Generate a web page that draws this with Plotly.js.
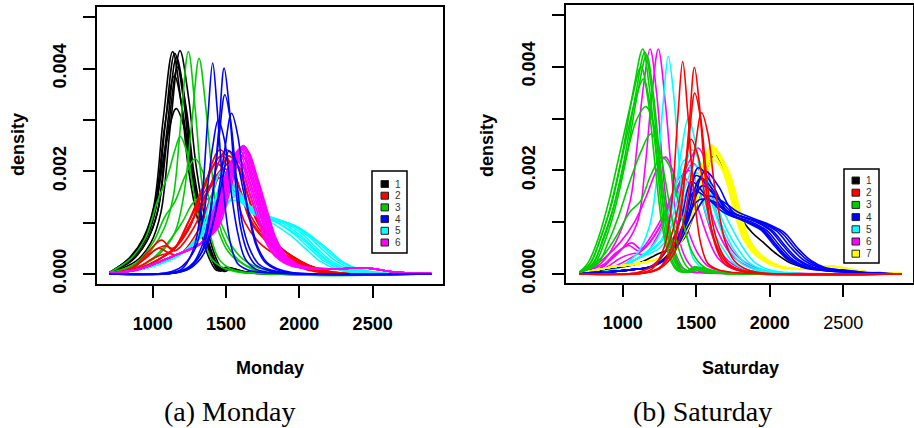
<!DOCTYPE html>
<html><head><meta charset="utf-8">
<script src="https://cdn.plot.ly/plotly-3.0.1.min.js"></script>
<style>html,body{margin:0;padding:0;background:#fff}#chart{width:914px;height:428px}</style>
</head><body><div id="chart"></div>
<script>
// ===== Monday (panel a) : curve knots =====
const monBlackX = [
 [705,836,936,1006,1071,1136,1196,1246,1316,1386,1436,1486,1586,1736,2900],
 [705,850,950,1020,1085,1150,1210,1260,1330,1400,1450,1500,1600,1750,2900],
 [705,862,962,1032,1097,1162,1222,1272,1342,1412,1462,1512,1612,1762,2900],
 [705,886,986,1056,1121,1186,1246,1296,1366,1436,1486,1536,1636,1786,2900],
 [705,870,970,1040,1105,1170,1230,1280,1350,1420,1470,1520,1620,1770,2900],
 [705,848,948,1018,1083,1148,1208,1258,1328,1398,1448,1498,1598,1748,2900],
 [705,860,960,1030,1095,1160,1220,1270,1340,1410,1460,1510,1610,1760,2900]];
const monBlackY = [
 [0.00002,0.0003,0.0007,0.0013,0.003,0.00433,0.0033,0.002,0.00095,0.0003,0.00007,0.00012,0.00005,0.00001,0],
 [0.00002,0.00028,0.00066,0.00125,0.0029,0.0043,0.0034,0.0021,0.001,0.00032,0.00006,0.00011,0.00004,0.00001,0],
 [0.00002,0.00027,0.00065,0.0012,0.0028,0.00422,0.0033,0.002,0.00098,0.0003,0.00006,0.0001,0.00004,0.00001,0],
 [0.00002,0.00025,0.0006,0.0012,0.0029,0.00435,0.0034,0.0021,0.00095,0.00028,0.00005,0.0001,0.00004,0.00001,0],
 [0.00002,0.0003,0.0007,0.0013,0.0028,0.00403,0.0032,0.002,0.00095,0.0003,0.00007,0.00012,0.00005,0.00001,0],
 [0.00003,0.00032,0.00075,0.0014,0.0029,0.00386,0.0031,0.002,0.001,0.00033,0.00008,0.00013,0.00005,0.00001,0],
 [0.00003,0.00035,0.0008,0.0015,0.0026,0.00322,0.0028,0.0019,0.001,0.00035,0.0001,0.00013,0.00005,0.00001,0]];
const monGreenX = [
 [705,900,1000,1080,1140,1190,1243,1290,1330,1390,1450,1520,1600,1750,2900],
 [705,950,1050,1150,1210,1265,1316,1360,1400,1450,1500,1560,1640,1750,2900],
 [705,850,950,1030,1100,1150,1188,1230,1280,1340,1400,1480,1560,1700,2900],
 [705,880,1000,1080,1150,1220,1288,1340,1390,1440,1500,1560,1650,1760,2900],
 [705,950,1100,1200,1280,1350,1420,1480,1550,1620,1720,1850,2900]];
const monGreenY = [
 [0.00002,0.0002,0.0005,0.0009,0.0015,0.0029,0.00433,0.0032,0.0019,0.0008,0.0003,0.00012,0.00005,0.00001,0],
 [0.00001,0.0002,0.0004,0.0008,0.0015,0.0029,0.0042,0.0033,0.0021,0.001,0.0006,0.00035,0.00015,0.00003,0],
 [0.00003,0.0003,0.0007,0.0014,0.0019,0.0024,0.00268,0.0024,0.0016,0.0008,0.0003,0.00012,0.00005,0.00001,0],
 [0.00002,0.0002,0.0006,0.0011,0.0014,0.0019,0.00225,0.002,0.0014,0.0009,0.0005,0.0003,0.00015,0.00003,0],
 [0.00001,0.0002,0.0006,0.001,0.0014,0.0015,0.0013,0.0009,0.0005,0.00028,0.00012,0.00003,0]];
const monRedX = [
 [705,850,960,1060,1130,1250,1350,1459,1540,1600,1660,1760,1880,2010,2150,2900],
 [705,860,980,1085,1150,1280,1390,1504,1580,1640,1700,1800,1920,2050,2200,2900],
 [705,900,1050,1150,1250,1340,1436,1510,1570,1630,1730,1850,1980,2120,2900],
 [705,880,1000,1100,1180,1300,1410,1520,1595,1655,1715,1815,1935,2065,2210,2900],
 [705,900,1050,1150,1260,1370,1480,1555,1615,1675,1775,1895,2025,2170,2900],
 [705,840,950,1040,1120,1240,1360,1470,1550,1610,1670,1770,1890,2020,2160,2900],
 [705,900,1050,1150,1260,1380,1500,1580,1680,1780,1880,2000,2150,2900],
 [705,900,1050,1180,1300,1420,1540,1610,1670,1730,1830,1950,2080,2220,2900]];
const monRedY = [
 [0.00001,0.0001,0.0004,0.00066,0.0005,0.0009,0.0017,0.00242,0.0021,0.0016,0.0011,0.0007,0.0004,0.00018,0.00005,0],
 [0.00001,0.0001,0.0004,0.00055,0.00045,0.0009,0.0017,0.00242,0.0021,0.0016,0.0011,0.0007,0.0004,0.00018,0.00005,0],
 [0.00001,0.0001,0.0003,0.0005,0.0009,0.0016,0.00216,0.0019,0.0015,0.001,0.0006,0.00035,0.00015,0.00004,0],
 [0.00001,0.0001,0.0003,0.0004,0.00038,0.0008,0.0016,0.0023,0.002,0.0015,0.001,0.00065,0.00038,0.00017,0.00005,0],
 [0.00001,0.0001,0.0003,0.0005,0.001,0.0016,0.00205,0.0019,0.0015,0.0011,0.0007,0.0004,0.00018,0.00005,0],
 [0.00001,0.0001,0.0003,0.0005,0.00042,0.001,0.0018,0.0023,0.002,0.0015,0.001,0.00065,0.00035,0.00015,0.00004,0],
 [0.00001,0.0001,0.0003,0.0005,0.0011,0.0017,0.0019,0.0016,0.0012,0.0008,0.0005,0.00022,0.00006,0],
 [0.00001,0.0001,0.0003,0.0006,0.0012,0.0018,0.0022,0.002,0.0015,0.001,0.0006,0.00035,0.00015,0.00004,0]];
const monBlueX = [
 [705,1100,1200,1280,1330,1375,1409,1440,1480,1530,1580,1650,1750,1900,2900],
 [705,1150,1250,1330,1390,1450,1487,1520,1560,1600,1650,1700,1800,1950,2900],
 [705,1150,1250,1330,1390,1450,1492,1530,1570,1610,1660,1720,1800,1950,2900],
 [705,1150,1250,1350,1420,1490,1538,1580,1620,1660,1700,1760,1850,1950,2900],
 [705,1100,1200,1290,1350,1410,1447,1490,1530,1580,1630,1700,1800,1950,2900],
 [705,1150,1250,1350,1420,1480,1520,1570,1620,1670,1720,1780,1850,1950,2900]];
const monBlueY = [
 [0,0.00002,0.0001,0.0005,0.0013,0.003,0.00411,0.0032,0.0017,0.0006,0.0002,0.00008,0.00003,0.00001,0],
 [0,0.00002,0.00012,0.0004,0.0011,0.0028,0.00401,0.0033,0.0019,0.0009,0.0004,0.00018,0.00006,0.00001,0],
 [0,0.00002,0.00012,0.0005,0.0012,0.0026,0.00349,0.003,0.0019,0.001,0.0005,0.0002,0.00008,0.00001,0],
 [0,0.00002,0.0001,0.0004,0.0011,0.0024,0.00313,0.0027,0.0018,0.0011,0.0006,0.00025,0.00008,0.00002,0],
 [0,0.00003,0.00015,0.0005,0.0012,0.0025,0.003,0.0026,0.0017,0.0008,0.0003,0.0001,0.00003,0.00001,0],
 [0,0.00003,0.00015,0.0005,0.0011,0.0019,0.0024,0.0022,0.0016,0.001,0.0005,0.00022,0.0001,0.00003,0]];
const monCyanX = [
 [705,900,1050,1200,1320,1400,1470,1570,1670,1820,1940,2040,2140,2270,2420,2900],
 [705,900,1050,1200,1330,1420,1490,1590,1690,1850,1970,2070,2170,2300,2450,2900],
 [705,900,1050,1200,1340,1435,1505,1605,1705,1880,2000,2100,2200,2330,2480,2900],
 [705,900,1050,1200,1350,1460,1530,1630,1730,1900,2020,2120,2220,2350,2500,2900],
 [705,900,1050,1200,1360,1480,1550,1650,1750,1930,2050,2150,2250,2380,2530,2900],
 [705,900,1050,1200,1350,1450,1520,1620,1720,1960,2080,2180,2280,2410,2560,2900],
 [705,900,1050,1200,1320,1410,1480,1580,1680,1870,1990,2090,2190,2320,2470,2900],
 [705,900,1050,1200,1340,1430,1500,1600,1700,1980,2100,2200,2300,2430,2580,2900]];
const monCyanY = [
 [0.00001,0.00008,0.0002,0.0004,0.0008,0.0015,0.002,0.0016,0.0012,0.00098,0.00075,0.0005,0.00025,0.00008,0.00002,0],
 [0.00001,0.00008,0.0002,0.0004,0.0008,0.0014,0.0019,0.0016,0.0012,0.001,0.00076,0.0005,0.00025,0.00008,0.00002,0],
 [0.00001,0.00008,0.0002,0.0004,0.0008,0.0013,0.00175,0.0015,0.0012,0.001,0.00077,0.0005,0.00025,0.00008,0.00002,0],
 [0.00001,0.00008,0.0002,0.0004,0.0008,0.0012,0.0016,0.0014,0.0012,0.001,0.00078,0.0005,0.00025,0.00008,0.00002,0],
 [0.00001,0.00008,0.0002,0.0004,0.0008,0.0012,0.0015,0.0013,0.0011,0.00098,0.00076,0.0005,0.00025,0.00008,0.00002,0],
 [0.00001,0.00008,0.0002,0.0004,0.0008,0.0012,0.00142,0.0014,0.0012,0.00095,0.00072,0.00048,0.00024,0.00008,0.00002,0],
 [0.00001,0.00008,0.0002,0.0004,0.0008,0.0013,0.0018,0.0015,0.0012,0.00097,0.00075,0.0005,0.00025,0.00008,0.00002,0],
 [0.00001,0.00008,0.0002,0.0004,0.0008,0.0012,0.00165,0.0014,0.0012,0.00093,0.0007,0.00047,0.00023,0.00008,0.00002,0]];
const monMagentaX = [
 [705,900,1140,1330,1370,1460,1520,1570,1640,1710,1770,1840,1950,2250,2450,2650,2900],
 [705,900,1140,1330,1380,1470,1530,1580,1650,1720,1780,1850,1960,2250,2450,2650,2900],
 [705,900,1140,1330,1390,1480,1540,1590,1660,1730,1790,1860,1970,2250,2450,2650,2900],
 [705,900,1140,1330,1398,1488,1548,1598,1668,1738,1798,1868,1978,2250,2450,2650,2900],
 [705,900,1140,1330,1405,1495,1555,1605,1675,1745,1805,1875,1985,2250,2450,2650,2900],
 [705,900,1140,1330,1412,1502,1562,1612,1682,1752,1812,1882,1992,2250,2450,2650,2900],
 [705,900,1140,1330,1420,1510,1570,1620,1690,1760,1820,1890,2000,2250,2450,2650,2900],
 [705,900,1140,1330,1428,1518,1578,1628,1698,1768,1828,1898,2008,2250,2450,2650,2900],
 [705,900,1140,1330,1435,1525,1585,1635,1705,1775,1835,1905,2015,2250,2450,2650,2900],
 [705,900,1140,1330,1445,1535,1595,1645,1715,1785,1845,1915,2025,2250,2450,2650,2900],
 [705,900,1140,1330,1400,1490,1550,1600,1670,1740,1800,1870,1980,2250,2450,2650,2900],
 [705,900,1140,1330,1415,1505,1565,1615,1685,1755,1815,1885,1995,2250,2450,2650,2900]];
const monMagentaY = [
 [0.00001,0.00009,0.00035,0.0006,0.0009,0.0016,0.0021,0.00225,0.00175,0.00112,0.00063,0.00033,0.00015,0.0001,0.00012,0.00004,0.00001],
 [0.00001,0.00009,0.00035,0.0006,0.0009,0.0016,0.00215,0.0023,0.0018,0.00115,0.00064,0.00033,0.00015,0.0001,0.00012,0.00004,0.00001],
 [0.00001,0.00009,0.00035,0.0006,0.0009,0.0017,0.0022,0.00235,0.00183,0.00118,0.00066,0.00034,0.00015,0.0001,0.00012,0.00004,0.00001],
 [0.00001,0.00009,0.00035,0.0006,0.0009,0.0017,0.00225,0.0024,0.00187,0.0012,0.00067,0.00034,0.00015,0.0001,0.00012,0.00004,0.00001],
 [0.00001,0.00009,0.00035,0.0006,0.0009,0.0017,0.0023,0.00245,0.0019,0.00122,0.00069,0.00035,0.00015,0.0001,0.00012,0.00004,0.00001],
 [0.00001,0.00009,0.00035,0.0006,0.0009,0.0017,0.0023,0.00248,0.00193,0.00124,0.0007,0.00035,0.00015,0.0001,0.00012,0.00004,0.00001],
 [0.00001,0.00009,0.00035,0.0006,0.0009,0.0017,0.00232,0.0025,0.00195,0.00125,0.0007,0.00035,0.00015,0.0001,0.00012,0.00004,0.00001],
 [0.00001,0.00009,0.00035,0.0006,0.0009,0.0017,0.0023,0.00248,0.00193,0.00124,0.0007,0.00035,0.00015,0.0001,0.00012,0.00004,0.00001],
 [0.00001,0.00009,0.00035,0.0006,0.0009,0.0017,0.0023,0.00245,0.0019,0.00122,0.00069,0.00035,0.00015,0.0001,0.00012,0.00004,0.00001],
 [0.00001,0.00009,0.00035,0.0006,0.0009,0.0017,0.00225,0.0024,0.00187,0.0012,0.00067,0.00034,0.00015,0.0001,0.00012,0.00004,0.00001],
 [0.00001,0.00009,0.00035,0.0006,0.0009,0.0016,0.0021,0.0022,0.00172,0.0011,0.00062,0.00032,0.00014,0.0001,0.00012,0.00004,0.00001],
 [0.00001,0.00009,0.00035,0.0006,0.0009,0.0017,0.00218,0.0023,0.0018,0.00115,0.00065,0.00033,0.00015,0.0001,0.00012,0.00004,0.00001]];

// ===== Saturday (panel b) =====
const satBlackX = [[705,900,1100,1250,1344,1420,1500,1570,1625,1700,1780,1880,1960,2040,2150,2300,2450,2900]];
const satBlackY = [[0.00001,0.0001,0.0002,0.0004,0.0005,0.0007,0.0013,0.002,0.0023,0.0019,0.0012,0.0008,0.0006,0.0004,0.0002,0.0001,0.00008,0]];
const satRedX = [
 [705,1100,1200,1280,1330,1374,1408,1440,1480,1530,1580,1650,1750,1900,2900],
 [705,1150,1250,1330,1390,1450,1488,1520,1560,1600,1650,1700,1800,1950,2900],
 [705,1150,1250,1330,1390,1450,1490,1530,1570,1610,1660,1720,1800,1950,2900],
 [705,1150,1250,1350,1420,1490,1537,1580,1620,1660,1700,1760,1850,1950,2900],
 [705,1100,1200,1300,1370,1425,1465,1510,1560,1610,1660,1730,1820,1950,2900]];
const satRedY = [
 [0,0.00002,0.0001,0.0005,0.0013,0.003,0.0041,0.0032,0.0017,0.0006,0.0002,0.00008,0.00003,0.00001,0],
 [0,0.00002,0.00012,0.0004,0.0011,0.0028,0.00399,0.0033,0.0019,0.0009,0.0004,0.00018,0.00006,0.00001,0],
 [0,0.00002,0.00012,0.0005,0.0012,0.0026,0.00349,0.003,0.0019,0.001,0.0005,0.0002,0.00008,0.00001,0],
 [0,0.00002,0.0001,0.0004,0.0011,0.0024,0.00311,0.0027,0.0018,0.0011,0.0006,0.00025,0.00008,0.00002,0],
 [0,0.00003,0.00015,0.0005,0.0012,0.0021,0.0026,0.0023,0.0015,0.0008,0.0004,0.00015,0.00005,0.00001,0]];
const satGreenX = [
 [705,776,846,916,996,1076,1136,1181,1231,1281,1331,1381,1436,1491,1556,1696,2900],
 [705,790,860,930,1010,1090,1150,1195,1245,1295,1345,1395,1450,1505,1570,1710,2900],
 [705,802,872,942,1022,1102,1162,1207,1257,1307,1357,1407,1462,1517,1582,1722,2900],
 [705,780,850,920,1000,1080,1140,1190,1240,1290,1340,1390,1440,1495,1560,1700,2900],
 [705,798,868,938,1018,1098,1158,1210,1260,1310,1360,1410,1460,1513,1578,1718,2900],
 [705,830,900,970,1050,1130,1190,1240,1290,1340,1390,1440,1490,1545,1610,1750,2900],
 [705,850,950,1050,1120,1190,1265,1315,1360,1410,1460,1510,1560,1620,1700,1800,2900],
 [705,765,835,905,985,1065,1125,1170,1220,1270,1320,1370,1425,1480,1545,1685,2900]];
const satGreenY = [
 [0.00003,0.0002,0.00066,0.0013,0.0023,0.0036,0.00434,0.0036,0.0022,0.0009,0.0003,0.00007,0.00004,0.00014,0.00005,0.00001,0],
 [0.00003,0.00018,0.0006,0.0012,0.0022,0.0035,0.00428,0.0036,0.0022,0.0009,0.0003,0.00007,0.00004,0.00013,0.00005,0.00001,0],
 [0.00003,0.00017,0.00058,0.0012,0.0022,0.0035,0.00422,0.0035,0.0021,0.0009,0.0003,0.00007,0.00004,0.00012,0.00005,0.00001,0],
 [0.00003,0.0002,0.0007,0.0013,0.0023,0.0033,0.00376,0.0032,0.0021,0.001,0.00035,0.0001,0.00004,0.00013,0.00005,0.00001,0],
 [0.00003,0.0002,0.0007,0.0013,0.0022,0.003,0.00323,0.0029,0.0019,0.001,0.0004,0.00012,0.00005,0.00013,0.00005,0.00001,0],
 [0.00003,0.0002,0.0006,0.0011,0.0018,0.0024,0.0027,0.0025,0.0018,0.001,0.0004,0.00013,0.00005,0.00012,0.00005,0.00001,0],
 [0.00003,0.0003,0.0007,0.0012,0.0014,0.0019,0.00226,0.0021,0.0016,0.001,0.0005,0.00025,0.00012,0.00006,0.00003,0.00001,0],
 [0.00004,0.00022,0.0007,0.0014,0.0024,0.0034,0.004,0.0034,0.0021,0.0009,0.0003,0.00007,0.00004,0.00013,0.00005,0.00001,0]];
const satBlueX = [
 [705,900,1050,1200,1320,1420,1514,1614,1714,1860,1960,2050,2140,2240,2380,2600,2900],
 [705,900,1050,1200,1330,1450,1560,1650,1750,1900,2000,2090,2180,2280,2420,2600,2900],
 [705,900,1050,1200,1310,1400,1469,1570,1680,1850,1950,2040,2130,2230,2370,2600,2900],
 [705,900,1050,1200,1320,1420,1520,1620,1720,1950,2050,2140,2230,2330,2470,2600,2900],
 [705,900,1050,1200,1320,1420,1500,1600,1700,1880,1980,2070,2160,2260,2400,2600,2900],
 [705,900,1050,1200,1330,1440,1540,1640,1740,1920,2020,2110,2200,2300,2440,2600,2900],
 [705,900,1050,1200,1320,1420,1490,1600,1720,1980,2080,2170,2260,2360,2500,2650,2900],
 [705,900,1050,1200,1320,1430,1530,1620,1710,1840,1940,2030,2120,2220,2360,2600,2900],
 [705,900,1050,1200,1340,1460,1580,1680,1780,2000,2100,2190,2280,2380,2520,2650,2900]];
const satBlueY = [
 [0.00001,0.00004,0.00008,0.00015,0.0004,0.001,0.00205,0.0017,0.0012,0.001,0.00085,0.00055,0.00028,0.00013,0.00007,0.00003,0],
 [0.00001,0.00004,0.00008,0.00014,0.0004,0.0011,0.00198,0.0017,0.0012,0.00101,0.00085,0.00055,0.00028,0.00013,0.00007,0.00003,0],
 [0.00001,0.00004,0.00008,0.00016,0.0005,0.0011,0.00178,0.0015,0.0012,0.001,0.00085,0.00055,0.00028,0.00013,0.00007,0.00003,0],
 [0.00001,0.00004,0.00008,0.00015,0.0004,0.001,0.00143,0.0014,0.0012,0.00098,0.00082,0.00052,0.00027,0.00013,0.00007,0.00003,0],
 [0.00001,0.00004,0.00008,0.00015,0.0004,0.001,0.0019,0.0016,0.0012,0.001,0.00084,0.00054,0.00027,0.00013,0.00007,0.00003,0],
 [0.00001,0.00004,0.00008,0.00014,0.0004,0.001,0.0017,0.0015,0.0012,0.001,0.00083,0.00053,0.00027,0.00013,0.00007,0.00003,0],
 [0.00001,0.00004,0.00008,0.00015,0.0004,0.001,0.0016,0.0014,0.0012,0.00095,0.0008,0.0005,0.00026,0.00012,0.00007,0.00003,0],
 [0.00001,0.00004,0.00008,0.00015,0.0004,0.001,0.00185,0.0016,0.0012,0.001,0.00085,0.00055,0.00028,0.00013,0.00007,0.00003,0],
 [0.00001,0.00004,0.00008,0.00014,0.0004,0.001,0.0015,0.0014,0.0012,0.00095,0.0008,0.0005,0.00026,0.00012,0.00007,0.00003,0]];
const satCyanX = [
 [705,950,1100,1180,1230,1275,1310,1345,1385,1430,1480,1550,1650,1800,2900],
 [705,950,1100,1250,1330,1400,1446,1490,1540,1600,1660,1740,1850,2000,2900],
 [705,950,1100,1250,1350,1420,1469,1520,1580,1650,1720,1800,1900,2050,2900],
 [705,950,1100,1250,1360,1440,1490,1550,1610,1680,1750,1830,1930,2080,2900],
 [705,950,1100,1250,1370,1450,1500,1560,1630,1700,1780,1860,1960,2100,2900],
 [705,950,1100,1220,1310,1380,1420,1470,1530,1600,1680,1760,1860,2000,2900],
 [705,950,1100,1250,1380,1480,1540,1600,1670,1740,1820,1900,2000,2150,2900]];
const satCyanY = [
 [0.00001,0.0001,0.0004,0.0009,0.0018,0.0033,0.0042,0.0035,0.0021,0.0009,0.0003,0.0001,0.00003,0.00001,0],
 [0.00001,0.0001,0.0003,0.0006,0.0012,0.0024,0.003,0.0026,0.0017,0.0009,0.0004,0.00015,0.00005,0.00001,0],
 [0.00001,0.0001,0.0003,0.0006,0.0012,0.002,0.0024,0.0022,0.0016,0.001,0.0005,0.00022,0.00008,0.00002,0],
 [0.00001,0.0001,0.0003,0.0006,0.0011,0.0018,0.0021,0.0019,0.0014,0.0009,0.0005,0.00022,0.00008,0.00002,0],
 [0.00001,0.0001,0.0003,0.0006,0.0011,0.0017,0.00195,0.0018,0.0014,0.0009,0.0005,0.00022,0.00008,0.00002,0],
 [0.00001,0.0001,0.0003,0.0006,0.0012,0.0019,0.0022,0.002,0.0015,0.0009,0.0005,0.0002,0.00007,0.00002,0],
 [0.00001,0.0001,0.0003,0.0005,0.001,0.0016,0.0019,0.0017,0.0013,0.0009,0.0005,0.00022,0.00008,0.00002,0]];
const satMagentaX = [
 [705,850,950,1050,1095,1140,1186,1230,1280,1330,1380,1450,1550,1700,2900],
 [705,880,1000,1100,1150,1200,1242,1290,1340,1390,1450,1520,1620,1750,2900],
 [705,850,980,1080,1160,1230,1290,1340,1390,1450,1510,1580,1680,1800,2900],
 [705,850,960,1060,1130,1250,1360,1440,1514,1570,1620,1680,1760,1880,2020,2900],
 [705,840,950,1040,1110,1230,1340,1420,1480,1540,1590,1650,1730,1850,2000,2900],
 [705,870,980,1080,1150,1250,1340,1400,1450,1510,1570,1630,1720,1850,2900],
 [705,900,1050,1150,1250,1330,1400,1460,1520,1580,1650,1750,1900,2900]];
const satMagentaY = [
 [0.00002,0.0002,0.0006,0.0014,0.0024,0.0036,0.00434,0.0035,0.0018,0.0007,0.0002,0.00005,0.00002,0.00001,0],
 [0.00002,0.0002,0.0005,0.001,0.002,0.0035,0.00434,0.0033,0.0017,0.0006,0.0002,0.00005,0.00002,0.00001,0],
 [0.00002,0.00025,0.0006,0.001,0.0015,0.002,0.00226,0.002,0.0014,0.0008,0.0004,0.00015,0.00005,0.00001,0],
 [0.00001,0.0001,0.0004,0.0006,0.00048,0.0009,0.0016,0.0021,0.00243,0.0021,0.0014,0.0008,0.0004,0.00015,0.00004,0],
 [0.00001,0.0001,0.0004,0.00055,0.00045,0.0009,0.0015,0.0019,0.00213,0.0019,0.0013,0.0008,0.0004,0.00015,0.00004,0],
 [0.00001,0.0001,0.0003,0.0004,0.00038,0.0008,0.0014,0.0018,0.002,0.0017,0.0011,0.0006,0.00025,0.00007,0],
 [0.00001,0.0001,0.0003,0.0005,0.0009,0.0015,0.0019,0.0017,0.0012,0.0007,0.0003,0.0001,0.00002,0]];
const satYellowX = [
 [705,900,1100,1250,1350,1404,1484,1549,1594,1664,1709,1754,1824,1914,2044,2250,2420,2650,2900],
 [705,900,1100,1250,1350,1410,1490,1555,1600,1670,1715,1760,1830,1920,2050,2250,2420,2650,2900],
 [705,900,1100,1250,1350,1415,1495,1560,1605,1675,1720,1765,1835,1925,2055,2250,2420,2650,2900],
 [705,900,1100,1250,1350,1422,1502,1567,1612,1682,1727,1772,1842,1932,2062,2250,2420,2650,2900],
 [705,900,1100,1250,1350,1428,1508,1573,1618,1688,1733,1778,1848,1938,2068,2250,2420,2650,2900],
 [705,900,1100,1250,1350,1435,1515,1580,1625,1695,1740,1785,1855,1945,2075,2250,2420,2650,2900],
 [705,900,1100,1250,1350,1442,1522,1587,1632,1702,1747,1792,1862,1952,2082,2250,2420,2650,2900],
 [705,900,1100,1250,1350,1450,1530,1595,1640,1710,1755,1800,1870,1960,2090,2250,2420,2650,2900],
 [705,900,1100,1250,1350,1420,1500,1565,1610,1680,1725,1770,1840,1930,2060,2250,2420,2650,2900],
 [705,900,1100,1250,1350,1430,1510,1575,1620,1690,1735,1780,1850,1940,2070,2250,2420,2650,2900]];
const satYellowY = [
 [0.00001,0.00012,0.0002,0.0003,0.00045,0.0009,0.0016,0.00215,0.0024,0.00211,0.00175,0.00125,0.00065,0.00034,0.00014,0.0001,0.00015,0.00004,0.00001],
 [0.00001,0.00012,0.0002,0.0003,0.00045,0.0009,0.0016,0.0022,0.00245,0.00216,0.00179,0.00127,0.00066,0.00034,0.00015,0.0001,0.00015,0.00004,0.00001],
 [0.00001,0.00012,0.0002,0.0003,0.00045,0.0009,0.0016,0.00224,0.00249,0.00219,0.00182,0.00129,0.00067,0.00035,0.00015,0.0001,0.00015,0.00004,0.00001],
 [0.00001,0.00012,0.0002,0.0003,0.00045,0.0009,0.0016,0.00222,0.00247,0.00217,0.0018,0.00128,0.00067,0.00035,0.00015,0.0001,0.00015,0.00004,0.00001],
 [0.00001,0.00012,0.0002,0.0003,0.00045,0.0009,0.0016,0.0022,0.00245,0.00216,0.00179,0.00127,0.00066,0.00034,0.00015,0.0001,0.00015,0.00004,0.00001],
 [0.00001,0.00012,0.0002,0.0003,0.00045,0.0009,0.0016,0.00218,0.00242,0.00213,0.00177,0.00126,0.00065,0.00034,0.00014,0.0001,0.00015,0.00004,0.00001],
 [0.00001,0.00012,0.0002,0.0003,0.00045,0.0009,0.0016,0.00214,0.00238,0.00209,0.00174,0.00124,0.00064,0.00033,0.00014,0.0001,0.00015,0.00004,0.00001],
 [0.00001,0.00012,0.0002,0.0003,0.00045,0.0009,0.0016,0.0021,0.00233,0.00205,0.0017,0.00121,0.00063,0.00033,0.00014,0.0001,0.00015,0.00004,0.00001],
 [0.00001,0.00012,0.0002,0.0003,0.00045,0.0009,0.0016,0.00207,0.0023,0.00202,0.00168,0.0012,0.00062,0.00032,0.00014,0.0001,0.00015,0.00004,0.00001],
 [0.00001,0.00012,0.0002,0.0003,0.00045,0.0009,0.0015,0.00198,0.0022,0.00194,0.0016,0.00114,0.00059,0.00031,0.00013,0.0001,0.00015,0.00004,0.00001]];

// tick labels, legend labels
const xTickVals = [1000,1500,2000,2500];
const monXTickText = ['<b>1000</b>','<b>1500</b>','<b>2000</b>','<b>2500</b>'];
const satXTickText = ['<b>1000</b>','<b>1500</b>','<b>2000</b>','2500'];
const yTickVals = [0,0.001,0.002,0.003,0.004,0.005];
const yTickText = ['<b>0.000</b>','','<b>0.002</b>','','<b>0.004</b>',''];
const monLegendLabels = ['1','2','3','4','5','6'];
const satLegendLabels = ['1','2','3','4','5','6','7'];
const clusterColors = ['#000000','#FF0000','#00CD00','#0000FF','#00FFFF','#FF00FF','#FFFF00'];

// ===== build =====
const W = 914, H = 428;
const px = v => v / W, py = v => 1 - v / H;
const traces = [];
function addGroup(X, Y, color, xa, ya) {
  for (let i = 0; i < X.length; i++) {
    traces.push({x: X[i], y: Y[i], type: 'scatter', mode: 'lines', xaxis: xa, yaxis: ya,
      line: {color: color, width: 1.6, shape: 'spline', smoothing: 1}, hoverinfo: 'skip', showlegend: false});
  }
}
// Monday draw order
addGroup(monBlackX, monBlackY, clusterColors[0], 'x', 'y');
addGroup(monGreenX, monGreenY, clusterColors[2], 'x', 'y');
addGroup(monRedX, monRedY, clusterColors[1], 'x', 'y');
addGroup(monCyanX, monCyanY, clusterColors[4], 'x', 'y');
addGroup(monMagentaX, monMagentaY, clusterColors[5], 'x', 'y');
addGroup(monBlueX, monBlueY, clusterColors[3], 'x', 'y');
// Saturday draw order
addGroup(satMagentaX, satMagentaY, clusterColors[5], 'x2', 'y2');
addGroup(satCyanX, satCyanY, clusterColors[4], 'x2', 'y2');
addGroup(satBlackX, satBlackY, clusterColors[0], 'x2', 'y2');
addGroup(satYellowX, satYellowY, clusterColors[6], 'x2', 'y2');
addGroup(satBlueX, satBlueY, clusterColors[3], 'x2', 'y2');
addGroup(satGreenX, satGreenY, clusterColors[2], 'x2', 'y2');
addGroup(satRedX, satRedY, clusterColors[1], 'x2', 'y2');

const axFont = {family: 'Liberation Sans, Arial, sans-serif', size: 18, color: '#000'};
function xAxis(dom, range, ticktext) {
  return {domain: dom, range: range, tickmode: 'array', tickvals: xTickVals, ticktext: ticktext,
    ticks: 'outside', ticklen: 12, tickwidth: 2, tickcolor: '#000', showline: true, mirror: true,
    linecolor: '#000', linewidth: 2, showgrid: false, zeroline: false, tickfont: axFont, fixedrange: true,
    ticklabelstandoff: 10};
}
function yAxis(dom, range) {
  return {domain: dom, range: range, tickmode: 'array', tickvals: yTickVals, ticktext: yTickText,
    tickangle: -90, ticks: 'outside', ticklen: 12, tickwidth: 2, tickcolor: '#000', showline: true, mirror: true,
    linecolor: '#000', linewidth: 2, showgrid: false, zeroline: false, tickfont: axFont, fixedrange: true,
    ticklabelstandoff: 10};
}

const shapes = [], annotations = [];
function legend(x0, x1, y0, y1, rowY0, rowStep, sqX0, sqX1, labX, labels) {
  shapes.push({type: 'rect', xref: 'paper', yref: 'paper', x0: px(x0), x1: px(x1), y0: py(y1), y1: py(y0),
    line: {color: '#000', width: 1.5}, fillcolor: '#fff'});
  labels.forEach((lab, i) => {
    const cy = rowY0 + i * rowStep;
    shapes.push({type: 'rect', xref: 'paper', yref: 'paper', x0: px(sqX0), x1: px(sqX1), y0: py(cy + 3.5), y1: py(cy - 3.5),
      line: {color: '#222', width: 1}, fillcolor: clusterColors[i]});
    annotations.push({xref: 'paper', yref: 'paper', x: px(labX), y: py(cy), text: lab, showarrow: false,
      xanchor: 'center', yanchor: 'middle', font: {family: 'Liberation Sans, Arial, sans-serif', size: 10, color: '#333'}});
  });
}
legend(372, 407, 171, 253, 184, 11.7, 381, 388.5, 398, monLegendLabels);
legend(844, 879, 169, 263, 180.5, 12.2, 852, 859.5, 869, satLegendLabels);

const boldFont = {family: 'Liberation Sans, Arial, sans-serif', size: 18, color: '#000', weight: 'bold'};
const serifFont = {family: 'Liberation Serif, Times New Roman, serif', size: 28, color: '#000'};
annotations.push(
  {xref: 'paper', yref: 'paper', x: px(18), y: py(145), text: 'density', textangle: -90, showarrow: false, xanchor: 'center', yanchor: 'middle', font: boldFont},
  {xref: 'paper', yref: 'paper', x: px(487), y: py(145), text: 'density', textangle: -90, showarrow: false, xanchor: 'center', yanchor: 'middle', font: boldFont},
  {xref: 'paper', yref: 'paper', x: px(270), y: py(368), text: 'Monday', showarrow: false, xanchor: 'center', yanchor: 'middle', font: boldFont},
  {xref: 'paper', yref: 'paper', x: px(740), y: py(368), text: 'Saturday', showarrow: false, xanchor: 'center', yanchor: 'middle', font: boldFont},
  {xref: 'paper', yref: 'paper', x: px(229), y: py(411), text: '(a) Monday', showarrow: false, xanchor: 'center', yanchor: 'middle', font: serifFont},
  {xref: 'paper', yref: 'paper', x: px(702), y: py(411), text: '(b) Saturday', showarrow: false, xanchor: 'center', yanchor: 'middle', font: serifFont}
);

const layout = {
  width: W, height: H, margin: {l: 0, r: 0, t: 0, b: 0}, paper_bgcolor: '#fff', plot_bgcolor: '#fff',
  showlegend: false,
  xaxis: xAxis([px(97), px(443)], [620, 2980], monXTickText),
  yaxis: yAxis([py(284), py(7)], [-0.000195, 0.0052]),
  xaxis2: xAxis([px(566), px(913)], [614, 2975], satXTickText),
  yaxis2: yAxis([py(283), py(5)], [-0.000174, 0.00519]),
  shapes: shapes, annotations: annotations
};
layout.xaxis2.anchor = 'y2'; layout.yaxis2.anchor = 'x2';
Plotly.newPlot('chart', traces, layout, {staticPlot: true, displayModeBar: false});
</script></body></html>
